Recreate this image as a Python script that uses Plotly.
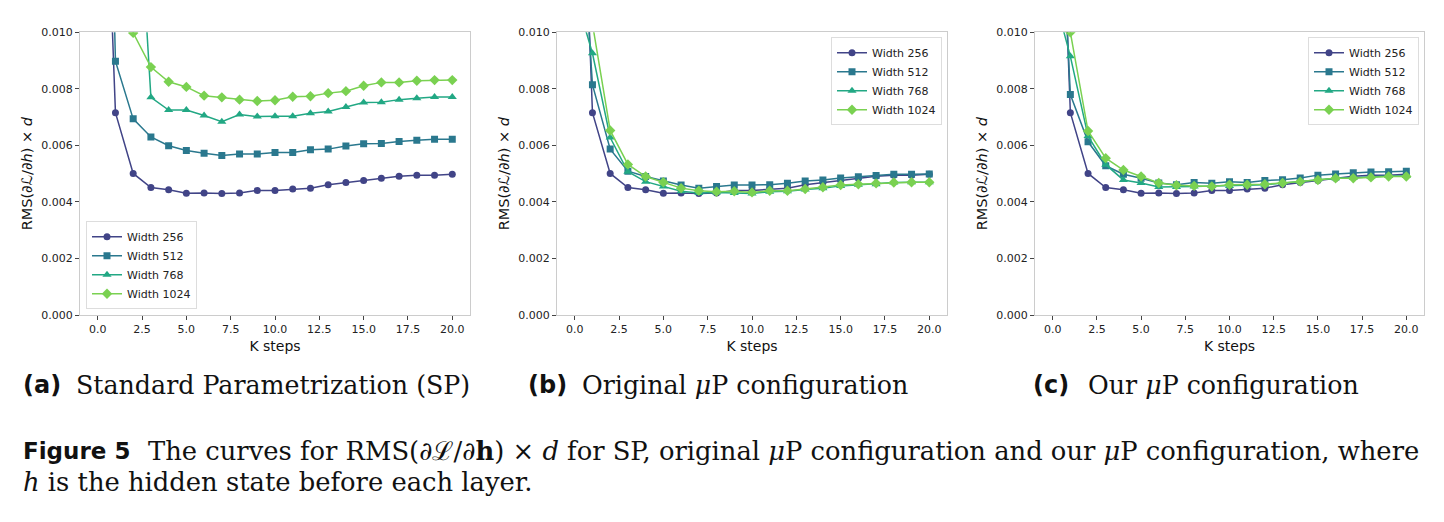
import plotly.graph_objects as go

k_steps = list(range(21))
widths = ["Width 256", "Width 512", "Width 768", "Width 1024"]
colors = ["#414487", "#2a788e", "#22a884", "#7ad151"]
symbols = ["circle", "square", "triangle-up", "diamond"]
msizes = [7, 7, 8, 8]

w256 = [0.0240, 0.00716, 0.00501, 0.00451, 0.00443, 0.00431, 0.00432, 0.00430, 0.00432, 0.00441,
        0.00441, 0.00446, 0.00449, 0.00461, 0.00469, 0.00476, 0.00484, 0.00491, 0.00495, 0.00495, 0.00498]

# (a) Standard Parametrization
sp_512 = [0.0345, 0.00898, 0.00694, 0.00630, 0.00599, 0.00582, 0.00572, 0.00564, 0.00570, 0.00570,
          0.00575, 0.00575, 0.00585, 0.00587, 0.00598, 0.00606, 0.00607, 0.00614, 0.00618, 0.00622, 0.00622]
sp_768 = [0.0500, 0.0300, 0.0181, 0.00770, 0.00725, 0.00725, 0.00706, 0.00684, 0.00709, 0.00702,
          0.00703, 0.00703, 0.00714, 0.00720, 0.00736, 0.00752, 0.00753, 0.00762, 0.00767, 0.00771, 0.00771]
sp_1024 = [0.0600, 0.0300, 0.00998, 0.00877, 0.00825, 0.00807, 0.00776, 0.00770, 0.00762, 0.00757,
           0.00760, 0.00772, 0.00774, 0.00785, 0.00792, 0.00811, 0.00823, 0.00823, 0.00829, 0.00831, 0.00831]

# (b) Original muP
omu_512 = [0.0179, 0.00815, 0.00587, 0.00509, 0.00490, 0.00474, 0.00460, 0.00449, 0.00455, 0.00460,
           0.00460, 0.00461, 0.00466, 0.00474, 0.00478, 0.00485, 0.00489, 0.00494, 0.00498, 0.00498, 0.00499]
omu_768 = [0.0114, 0.00926, 0.00628, 0.00507, 0.00472, 0.00455, 0.00438, 0.00432, 0.00434, 0.00432,
           0.00430, 0.00436, 0.00438, 0.00444, 0.00449, 0.00457, 0.00461, 0.00463, 0.00469, 0.00470, 0.00470]
omu_1024 = [0.0160, 0.0103, 0.00653, 0.00533, 0.00490, 0.00470, 0.00449, 0.00440, 0.00436, 0.00438,
            0.00434, 0.00440, 0.00440, 0.00446, 0.00452, 0.00460, 0.00463, 0.00466, 0.00469, 0.00470, 0.00470]

# (c) Our muP
our_512 = [0.0207, 0.00780, 0.00613, 0.00528, 0.00498, 0.00484, 0.00467, 0.00461, 0.00469, 0.00466,
           0.00472, 0.00469, 0.00476, 0.00479, 0.00485, 0.00495, 0.00499, 0.00503, 0.00506, 0.00507, 0.00509]
our_768 = [0.0115, 0.00915, 0.00633, 0.00532, 0.00478, 0.00467, 0.00453, 0.00453, 0.00455, 0.00457,
           0.00457, 0.00459, 0.00461, 0.00467, 0.00472, 0.00480, 0.00484, 0.00486, 0.00490, 0.00492, 0.00492]
our_1024 = [0.0160, 0.0100, 0.00651, 0.00555, 0.00513, 0.00490, 0.00467, 0.00459, 0.00457, 0.00455,
            0.00461, 0.00461, 0.00463, 0.00467, 0.00472, 0.00478, 0.00484, 0.00484, 0.00487, 0.00490, 0.00490]

panels = [
    [w256, sp_512, sp_768, sp_1024],
    [w256, omu_512, omu_768, omu_1024],
    [w256, our_512, our_768, our_1024],
]

x_ticks = [0.0, 2.5, 5.0, 7.5, 10.0, 12.5, 15.0, 17.5, 20.0]
y_ticks = [0.000, 0.002, 0.004, 0.006, 0.008, 0.010]

sub_labels = ["(a)", "(b)", "(c)"]
sub_texts = ["Standard Parametrization (SP)", "Original <i>μ</i>P configuration", "Our <i>μ</i>P configuration"]
caption_head = "Figure 5"
caption_l1 = "The curves for RMS(∂ℒ/∂<b>h</b>) × <i>d</i> for SP, original <i>μ</i>P configuration and our <i>μ</i>P configuration, where"
caption_l2 = "<i>h</i> is the hidden state before each layer."

W, H = 1444, 522
def px(x): return x / W
def py(y): return 1 - y / H

x_domains = [(80, 470), (557, 947), (1035, 1424)]
y_dom = [py(317), py(27)]

fig = go.Figure()
legend_names = ["legend", "legend2", "legend3"]
for p, series in enumerate(panels):
    ax = "" if p == 0 else str(p + 1)
    for i, vals in enumerate(series):
        fig.add_trace(go.Scatter(
            x=k_steps, y=vals, mode="lines+markers", name=widths[i],
            line=dict(color=colors[i], width=1.5),
            marker=dict(symbol=symbols[i], size=msizes[i], color=colors[i]),
            xaxis="x" + ax, yaxis="y" + ax, legend=legend_names[p],
            cliponaxis=True,
        ))

font_tick = dict(family="DejaVu Sans", size=11, color="#222222")
axis_common = dict(showline=True, linecolor="#cccccc", linewidth=1, mirror=True,
                   ticks="outside", ticklen=4, tickwidth=1, tickcolor="#444444",
                   showgrid=False, zeroline=False, tickfont=font_tick)

layout = dict(width=W, height=H, margin=dict(l=0, r=0, t=0, b=0),
              paper_bgcolor="white", plot_bgcolor="white", showlegend=True)
for p in range(3):
    ax = "" if p == 0 else str(p + 1)
    layout["xaxis" + ax] = dict(domain=[px(x_domains[p][0]), px(x_domains[p][1])],
                                range=[-1, 21], tickvals=x_ticks, ticktext=[f"{v:.1f}" for v in x_ticks],
                                anchor="y" + ax,
                                title=dict(text="K steps", font=dict(family="DejaVu Sans", size=14, color="#111"), standoff=5),
                                **axis_common)
    layout["yaxis" + ax] = dict(domain=y_dom, range=[0, 0.010], tickvals=y_ticks,
                                ticktext=[f"{v:.3f}" for v in y_ticks], anchor="x" + ax,
                                title=dict(text="RMS(∂<i>ℒ</i>/∂<i>h</i>) × <i>d</i>", font=dict(family="DejaVu Sans", size=14.5, color="#111"), standoff=5),
                                **axis_common)

leg_common = dict(bgcolor="white", bordercolor="#dddddd", borderwidth=1,
                  font=dict(family="DejaVu Sans", size=11, color="#222"), tracegroupgap=0, itemwidth=30)
layout["legend"] = dict(x=px(86), y=py(311), xanchor="left", yanchor="bottom", **leg_common)
layout["legend2"] = dict(x=px(942), y=py(32), xanchor="right", yanchor="top", **leg_common)
layout["legend3"] = dict(x=px(1419), y=py(32), xanchor="right", yanchor="top", **leg_common)
fig.update_layout(**layout)

label_x = [21, 526, 1031]
text_x = [74, 580, 1086]
for p in range(3):
    fig.add_annotation(x=px(label_x[p]), y=py(389), xref="paper", yref="paper", xanchor="left", yanchor="middle",
                       text="<b>" + sub_labels[p] + "</b>", showarrow=False,
                       font=dict(family="DejaVu Sans", size=24, color="#111"))
    fig.add_annotation(x=px(text_x[p]), y=py(389), xref="paper", yref="paper", xanchor="left", yanchor="middle",
                       text=sub_texts[p], showarrow=False,
                       font=dict(family="DejaVu Serif", size=25.3, color="#111"))

fig.add_annotation(x=px(21), y=py(456), xref="paper", yref="paper", xanchor="left", yanchor="middle",
                   text="<b>" + caption_head + "</b>", showarrow=False,
                   font=dict(family="DejaVu Sans", size=23, color="#111"))
fig.add_annotation(x=px(146), y=py(456), xref="paper", yref="paper", xanchor="left", yanchor="middle",
                   text=caption_l1, showarrow=False,
                   font=dict(family="DejaVu Serif", size=25.8, color="#111"))
fig.add_annotation(x=px(21), y=py(488), xref="paper", yref="paper", xanchor="left", yanchor="middle",
                   text=caption_l2, showarrow=False,
                   font=dict(family="DejaVu Serif", size=25.8, color="#111"))

fig.write_html("out.html")
